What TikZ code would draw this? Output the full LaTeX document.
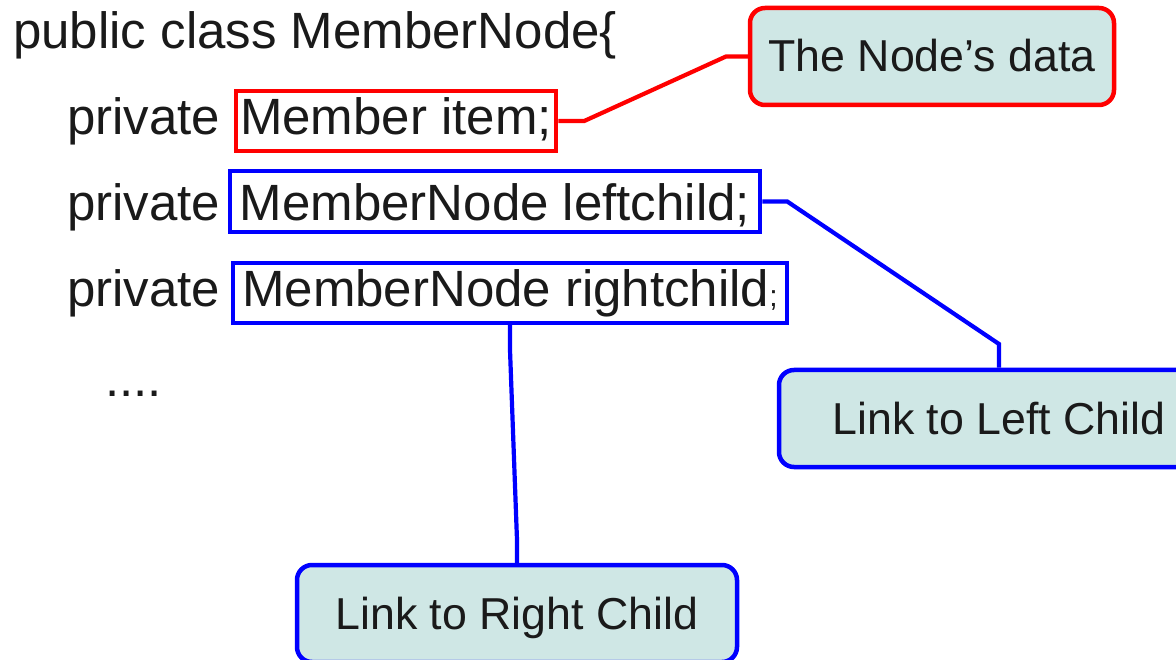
\documentclass[tikz,border=0pt]{standalone}
\usepackage{fontspec}
\setmainfont{Liberation Sans}
\definecolor{txt}{RGB}{26,26,26}
\definecolor{boxfill}{RGB}{207,231,229}
\definecolor{myred}{RGB}{255,0,0}
\definecolor{myblue}{RGB}{0,0,255}
\begin{document}
\begin{tikzpicture}[x=1pt,y=-1pt,
  codetext/.style={anchor=base west,inner sep=0pt,text=txt,font=\fontsize{51}{51}\selectfont},
  codebox/.style={draw=#1,line width=4.5pt,inner sep=0pt,text=txt,font=\fontsize{51}{51}\selectfont,text depth=0pt},
  labelbox/.style={draw=#1,line width=4.5pt,fill=boxfill,rounded corners=15pt,minimum height=97pt,inner sep=0pt,text=txt,font=\fontsize{44.7}{44.7}\selectfont,text height=31pt,text depth=0pt},
  link/.style={draw=#1,line width=4.2pt,line join=miter}
]
\useasboundingbox (0,0) rectangle (1176,660);
% code lines
\node[codetext] (head) at (13,49) {public class MemberNode\{};
\node[codetext] (p1) at (67,135) {private};
\node[codetext] (p2) at (67,221) {private};
\node[codetext] (p3) at (67,307) {private};
\node[codetext] (dots) at (105,397) {....};
% boxed members
\node[codebox=myred,minimum width=320pt,minimum height=60pt,text height=28pt] (item) at (396,121) {Member item;\hspace{1pt}};
\node[codebox=myblue,minimum width=530pt,minimum height=61pt,text height=39pt] (left) at (495,201.5) {MemberNode leftchild;\hspace{3pt}};
\node[codebox=myblue,minimum width=554pt,minimum height=60pt,text height=28pt] (right) at (510,293) {MemberNode rightchild{\fontsize{30}{30}\selectfont;}\hspace{6pt}};
% labels
\node[labelbox=myred,minimum width=364pt] (data) at (932,56.5) {The Node’s data};
\node[labelbox=myblue,minimum width=440pt] (leftlab) at (999,418.5) {Link to Left Child};
\node[labelbox=myblue,minimum width=440pt] (rightlab) at (517,613.5) {Link to Right Child};
% connectors
\draw[link=myred] (item.east) -- ++(26,0) -- (726,56.5) -- (data.west);
\draw[link=myblue] (left.east) -- ++(25,0) -- (999,344) -- (leftlab.north);
\draw[link=myblue] (right.south) -- (510,350) -- (517,540) -- (rightlab.north);
\end{tikzpicture}
\end{document}
